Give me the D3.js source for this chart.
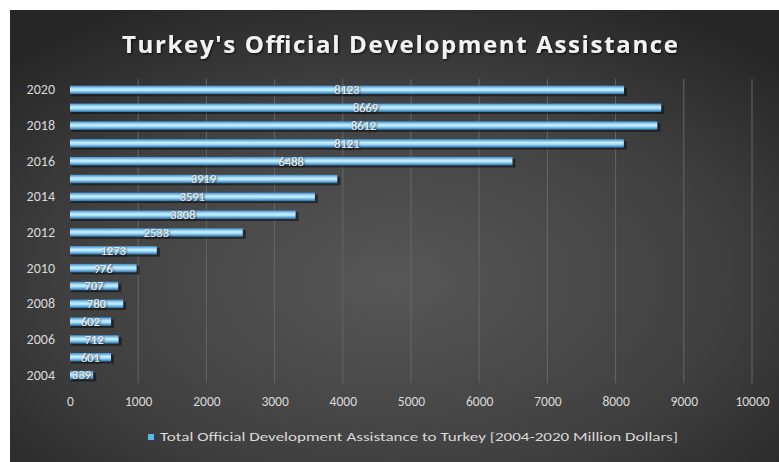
<!DOCTYPE html>
<html>
<head>
<meta charset="utf-8">
<script src="https://cdn.jsdelivr.net/npm/d3@7"></script>
<style>
  body { margin: 0; background: #fff; }
  svg { display: block; }
</style>
</head>
<body>
<div id="chart"></div>
<script>
// data
const years = [2004, 2005, 2006, 2007, 2008, 2009, 2010, 2011, 2012, 2013, 2014, 2015, 2016, 2017, 2018, 2019, 2020];
const oda = [339, 601, 712, 602, 780, 707, 976, 1273, 2533, 3308, 3591, 3919, 6488, 8121, 8612, 8669, 8123];
const xTicks = [0, 1000, 2000, 3000, 4000, 5000, 6000, 7000, 8000, 9000, 10000];
const yLabels = [2004, 2006, 2008, 2010, 2012, 2014, 2016, 2018, 2020];
const title = "Turkey's Official Development Assistance";
const legendText = "Total Official Development Assistance to Turkey [2004-2020 Million Dollars]";

const W = 779, H = 462;
const FONT = 'Carlito, Calibri, "Open Sans", sans-serif';

const svg = d3.select('#chart').append('svg')
    .attr('width', W)
    .attr('height', H);

const defs = svg.append('defs');

const bg = defs.append('radialGradient')
    .attr('id', 'bg')
    .attr('cx', '0.5').attr('cy', '0.6').attr('r', '0.7');
bg.append('stop').attr('offset', '0%').attr('stop-color', '#575757');
bg.append('stop').attr('offset', '60%').attr('stop-color', '#404040');
bg.append('stop').attr('offset', '100%').attr('stop-color', '#262626');

const barGrad = defs.append('linearGradient')
    .attr('id', 'bar')
    .attr('x1', 0).attr('y1', 0).attr('x2', 0).attr('y2', 1);
barGrad.append('stop').attr('offset', '0%').attr('stop-color', '#3d8ccc');
barGrad.append('stop').attr('offset', '40%').attr('stop-color', '#c6efff');
barGrad.append('stop').attr('offset', '60%').attr('stop-color', '#a9e2fb');
barGrad.append('stop').attr('offset', '100%').attr('stop-color', '#2a6ea8');

const shadow = defs.append('filter').attr('id', 'txtshadow')
    .attr('x', '-20%').attr('y', '-20%').attr('width', '140%').attr('height', '140%');
shadow.append('feDropShadow')
    .attr('dx', 1).attr('dy', 1).attr('stdDeviation', 0.8)
    .attr('flood-color', '#000').attr('flood-opacity', 0.8);

// chart background
svg.append('rect')
    .attr('x', 10).attr('y', 10)
    .attr('width', W - 10).attr('height', H - 10)
    .attr('fill', 'url(#bg)');

const x = d3.scaleLinear().domain([0, 10000]).range([70, 752]);
const y = d3.scaleBand()
    .domain(years.slice().reverse())
    .range([81, 384])
    .paddingInner(0.52)
    .paddingOuter(0.26);

// vertical gridlines
svg.append('g')
    .selectAll('line')
    .data(xTicks.slice(1))
    .join('line')
    .attr('x1', d => x(d)).attr('x2', d => x(d))
    .attr('y1', 79).attr('y2', 383)
    .attr('stroke', '#666')
    .attr('stroke-width', 1);

// x axis labels
const xAxis = svg.append('g')
    .attr('transform', 'translate(0,384)')
    .call(d3.axisBottom(x).tickValues(xTicks).tickSize(0).tickPadding(12).tickFormat(d3.format('d')));
xAxis.select('.domain').remove();
xAxis.selectAll('text')
    .attr('fill', '#d9d9d9')
    .style('font-family', FONT)
    .style('font-size', '13.5px');

// y axis labels (every other year)
const yAxis = svg.append('g')
    .attr('transform', 'translate(57,0)')
    .call(d3.axisLeft(y).tickValues(yLabels).tickSize(0).tickPadding(2).tickFormat(d3.format('d')));
yAxis.select('.domain').remove();
yAxis.selectAll('text')
    .attr('fill', '#d9d9d9')
    .style('font-family', FONT)
    .style('font-size', '14px');

const rows = years.map((yr, i) => ({ year: yr, value: oda[i] }));

// bar shadows
svg.append('g')
    .selectAll('rect')
    .data(rows)
    .join('rect')
    .attr('x', x(0) + 1)
    .attr('y', d => y(d.year) + 2)
    .attr('width', d => x(d.value) - x(0) + 2)
    .attr('height', y.bandwidth())
    .attr('fill', '#111')
    .attr('opacity', 0.6);

// bars
svg.append('g')
    .selectAll('rect')
    .data(rows)
    .join('rect')
    .attr('x', x(0))
    .attr('y', d => y(d.year))
    .attr('width', d => x(d.value) - x(0))
    .attr('height', y.bandwidth())
    .attr('fill', 'url(#bar)');

// value labels centred on the bars
svg.append('g')
    .selectAll('text')
    .data(rows)
    .join('text')
    .attr('x', d => (x(0) + x(d.value)) / 2)
    .attr('y', d => y(d.year) + y.bandwidth() / 2)
    .attr('dy', '0.35em')
    .attr('text-anchor', 'middle')
    .attr('fill', '#e8e8e8')
    .attr('filter', 'url(#txtshadow)')
    .style('font-family', FONT)
    .style('font-size', '12.5px')
    .text(d => d.value);

// title
svg.append('text')
    .attr('x', 400)
    .attr('y', 53)
    .attr('text-anchor', 'middle')
    .attr('fill', '#f2f2f2')
    .attr('filter', 'url(#txtshadow)')
    .attr('textLength', 556)
    .attr('lengthAdjust', 'spacing')
    .style('font-family', '"Open Sans", "DejaVu Sans", sans-serif')
    .style('font-weight', 'bold')
    .style('font-size', '24px')
    .text(title);

// legend
const legend = svg.append('g');
legend.append('rect')
    .attr('x', 148).attr('y', 434)
    .attr('width', 6).attr('height', 6)
    .attr('fill', '#5bb8ee');
legend.append('text')
    .attr('x', 160)
    .attr('y', 441)
    .attr('fill', '#d9d9d9')
    .attr('textLength', 518)
    .attr('lengthAdjust', 'spacingAndGlyphs')
    .style('font-family', FONT)
    .style('font-size', '12.5px')
    .text(legendText);
</script>
</body>
</html>
